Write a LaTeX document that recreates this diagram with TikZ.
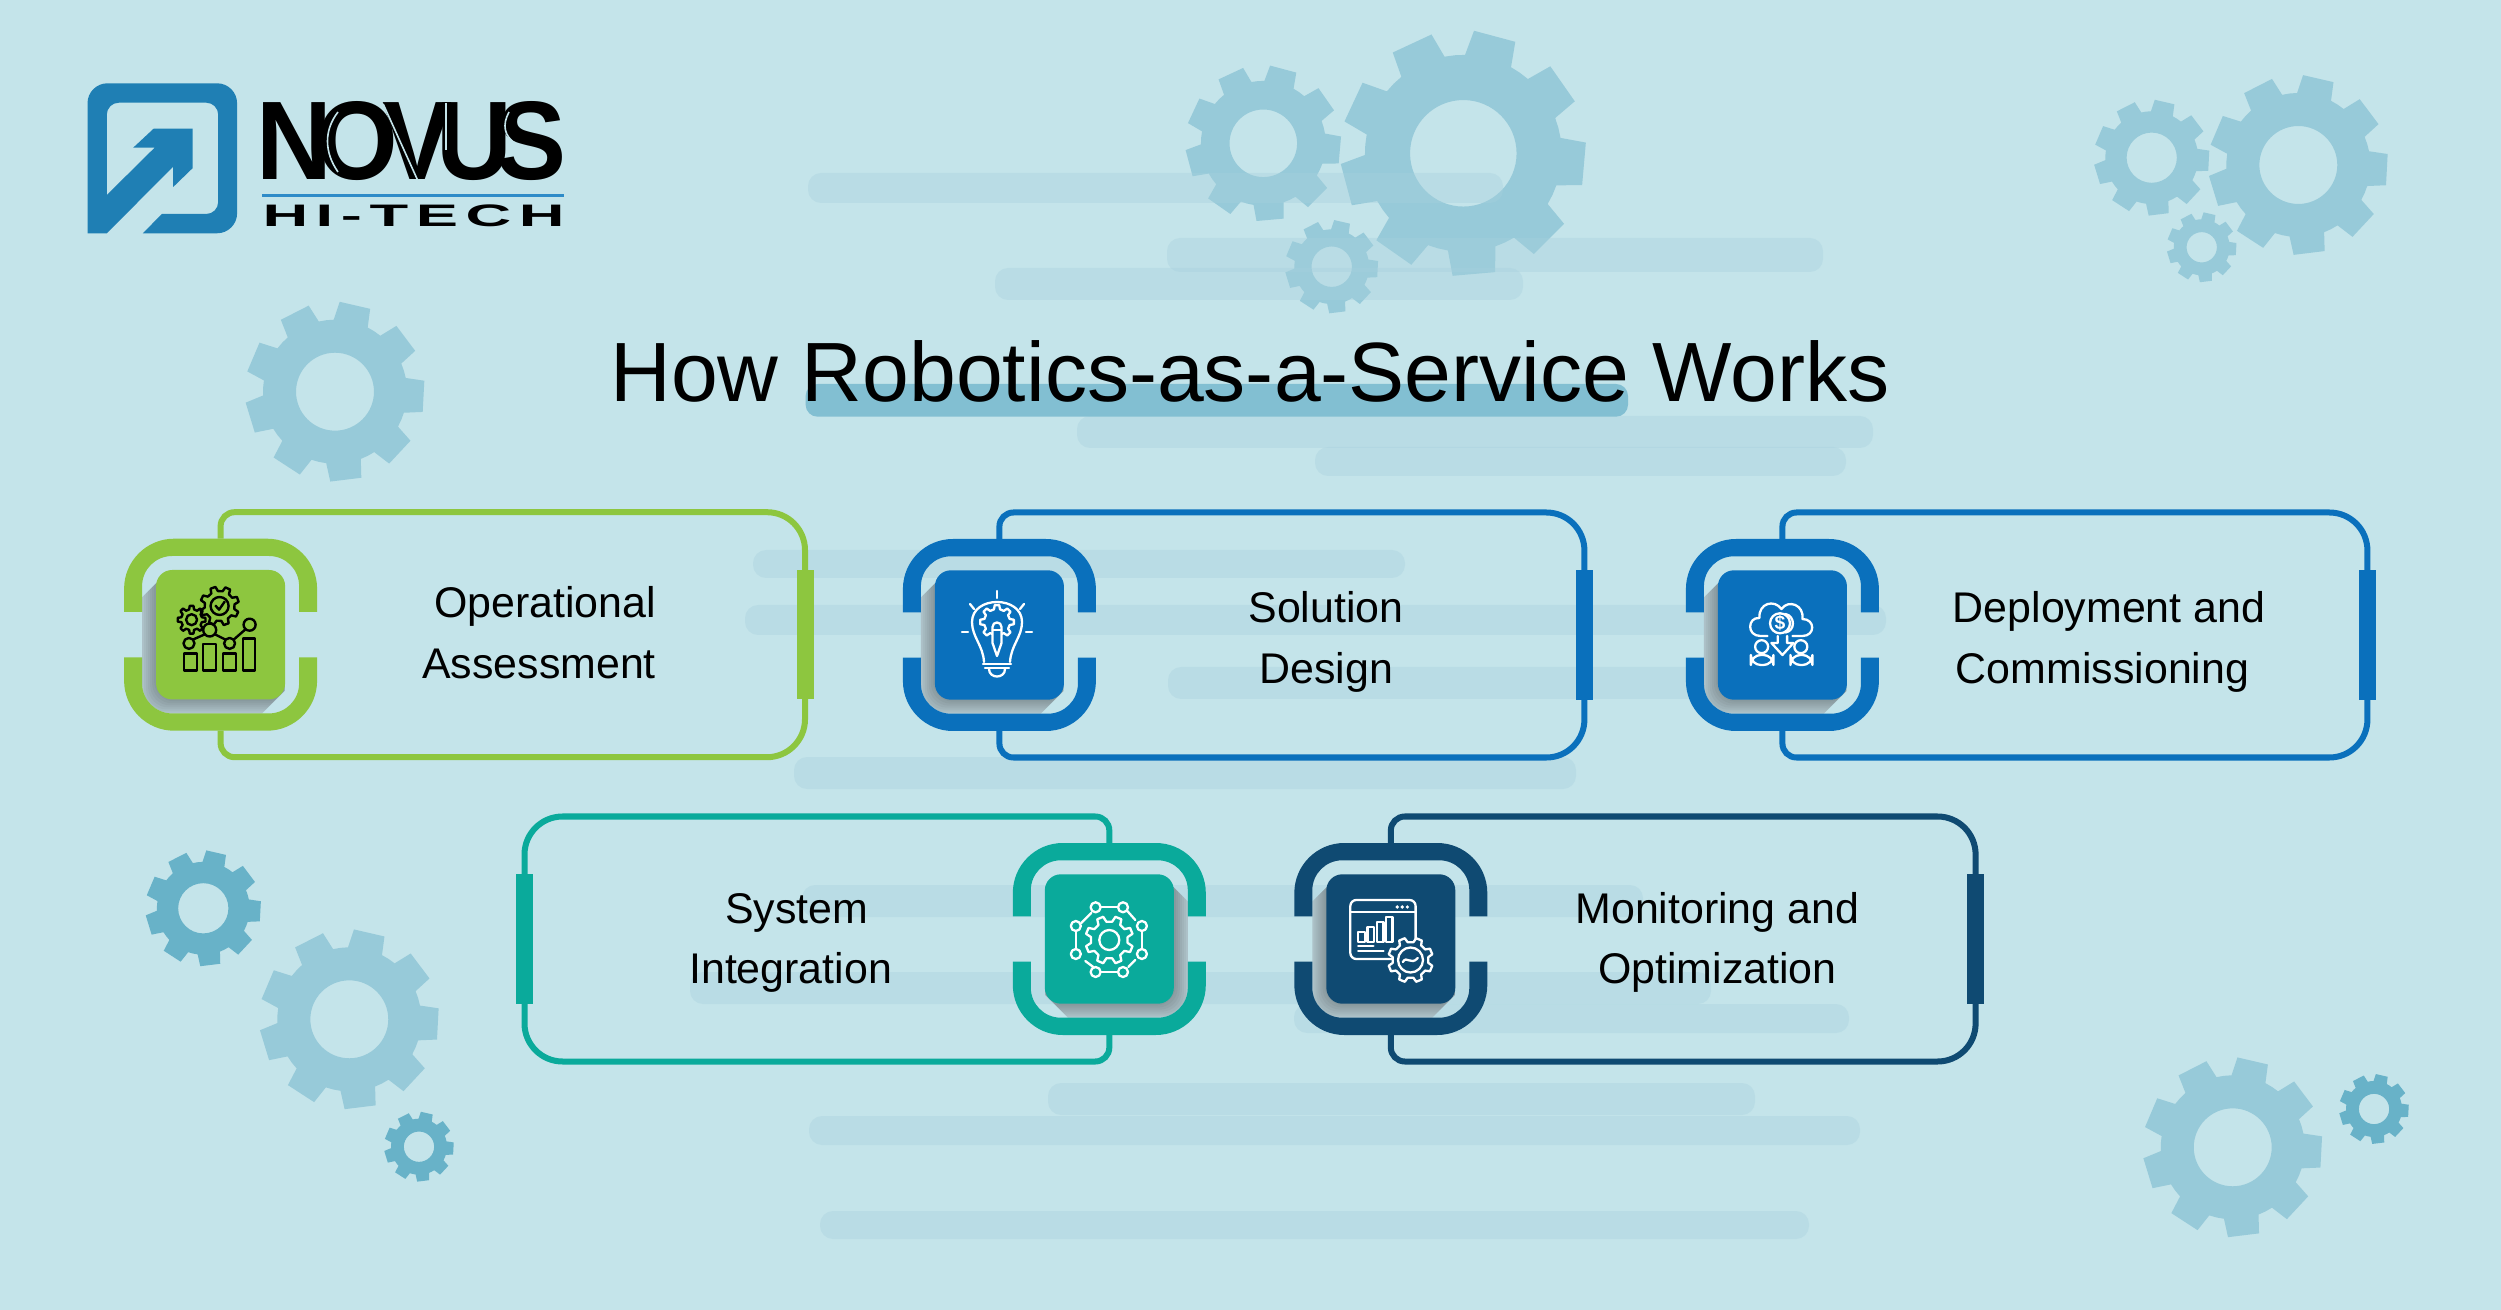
\documentclass[tikz,border=0pt]{standalone}
\usepackage{fontspec}
\usepackage{graphicx}
\setmainfont{Liberation Sans}
\newfontfamily\novusfont[LetterSpace=-15]{Liberation Sans}
\newfontfamily\hitechfont[LetterSpace=12]{Liberation Sans}
\definecolor{bgc}{HTML}{C4E4EA}
\definecolor{stripc}{HTML}{A6D0DD}
\definecolor{underc}{HTML}{82BFD2}
\definecolor{gearl}{HTML}{97CAD9}
\definecolor{geard}{HTML}{68B2C8}
\definecolor{logoc}{HTML}{1F7FB4}
\definecolor{ruleb}{HTML}{2E8BC8}
\definecolor{cgreen}{HTML}{8DC63F}
\definecolor{cblue}{HTML}{0A70BC}
\definecolor{cteal}{HTML}{0AAA9B}
\definecolor{cnavy}{HTML}{0F4A72}
\definecolor{shbase}{HTML}{B4C9D0}
\tikzset{
  striprect/.style={fill=stripc,opacity=.36,rounded corners=1.3mm},
  cardtext/.style={anchor=base,inner sep=0pt,font=\fontsize{12.2}{14}\selectfont,text=black},
  wline/.style={draw=white,line width=2.3*0.01cm,line join=round,line cap=round},
  kline/.style={draw=black,line width=2.4*0.01cm,line join=round,line cap=round},
  logosep/.style={draw=bgc,line width=1.6*0.01cm}
}
% background gear
\newcommand{\bggear}[5]{%
  \fill[#5,even odd rule,shift={(#1,#2)}]
    ({0.8*#3*cos(#4-14)},{-0.8*#3*sin(#4-14)})
    \foreach \k [evaluate=\k as \a using #4+40*\k] in {0,...,8}{
      -- ({#3*cos(\a-10)},{-#3*sin(\a-10)})
      -- ({#3*cos(\a+10)},{-#3*sin(\a+10)})
      -- ({0.8*#3*cos(\a+14)},{-0.8*#3*sin(\a+14)})
      -- ({0.8*#3*cos(\a+20)},{-0.8*#3*sin(\a+20)})
      -- ({0.8*#3*cos(\a+26)},{-0.8*#3*sin(\a+26)})
    } -- cycle
    (0,0) circle[radius={0.433*#3}];
}
% outlined icon gear: style, x, y, R, root, N, rot
\newcommand{\icgear}[7]{%
  \draw[#1,shift={(#2,#3)}]
    ({#5*cos(#7-0.3*360/#6)},{-#5*sin(#7-0.3*360/#6)})
    \foreach \k [evaluate=\k as \a using #7+360/#6*\k] in {1,...,#6}{
      -- ({#4*cos(\a-360/#6-0.17*360/#6)},{-#4*sin(\a-360/#6-0.17*360/#6)})
      -- ({#4*cos(\a-360/#6+0.17*360/#6)},{-#4*sin(\a-360/#6+0.17*360/#6)})
      -- ({#5*cos(\a-360/#6+0.3*360/#6)},{-#5*sin(\a-360/#6+0.3*360/#6)})
      -- ({#5*cos(\a-0.3*360/#6)},{-#5*sin(\a-0.3*360/#6)})
    } -- cycle;
}
% card: cx, cy, far-x (relative), colour, direction (1: shadow at left, -1: shadow at right)
\newcommand{\cardbase}[5]{%
  \begin{scope}[shift={(#1,#2)}]
    \draw[#4,line width=0.06cm] (0,-96) [rounded corners=1.4mm] -- (0,-122.5) -- ({#3/2},-122.5)
       [rounded corners=3.8mm] -- (#3,-122.5) -- (#3,122.5) -- ({#3/2},122.5)
       [rounded corners=1.4mm] -- (0,122.5) -- (0,96);
    \fill[#4] ({#3-8.5},-64.7) rectangle ({#3+8.5},64.7);
    \begin{scope}
      \clip[rounded corners=3mm] (-78.5,-78.7) rectangle (78.5,78.7);
      \clip ({-64*#5},-52) -- ({-80*#5},-36) -- ({-80*#5},80) -- ({40*#5},80) -- ({64*#5},56) -- ({64*#5},0) -- (0,0) -- cycle;
      \fill[shbase] (-100,-100) rectangle (100,100);
      \foreach \s in {2,4,...,14} {
        \fill[black,opacity=.035,rounded corners=2mm] ({-64.5-\s},{-64.7-\s}) rectangle ({64.5+\s},{64.7+\s});
      }
    \end{scope}
    \begin{scope}
      \clip (-100,-100) rectangle (100,-22.7) (-100,22.7) rectangle (100,100);
      \fill[#4,even odd rule] [rounded corners=5mm] (-96.5,-96) rectangle (96.5,96)
         [rounded corners=3mm] (-78.5,-78.7) rectangle (78.5,78.7);
    \end{scope}
    \fill[#4,rounded corners=1.6mm] (-64.5,-64.7) rectangle (64.5,64.7);
  \end{scope}
}
\begin{document}
\begin{tikzpicture}[x=0.01cm,y=-0.01cm]
\useasboundingbox (0,0) rectangle (2501,1310);
\fill[bgc] (0,0) rectangle (2501,1310);
% background gears
\bggear{1463.3}{153.3}{123}{75}{gearl}
\bggear{1263.3}{143.3}{78}{75}{gearl}
\bggear{1331.7}{266.7}{46.7}{77}{gearl}
\bggear{335}{391.7}{90}{77}{gearl}
\bggear{2298.3}{165}{90}{77}{gearl}
\bggear{2151.7}{157.7}{58}{77}{gearl}
\bggear{2201.7}{247.3}{35}{77}{gearl}
\bggear{203.3}{908.3}{58}{77}{geard}
\bggear{349.3}{1019.3}{90}{77}{gearl}
\bggear{419}{1146.7}{35}{77}{geard}
\bggear{2232.7}{1147.3}{90}{77}{gearl}
\bggear{2374}{1109}{35}{77}{geard}
% background strips
\foreach \xa/\ya/\xb/\yb in {
  808/173/1503/203, 1167/238/1823/272, 995/268/1523/300,
  1077/416/1873/448, 1315/447/1846/476,
  753/550/1405/578, 745/605/1886/635, 1168/667/1720/699, 794/757/1576/789,
  802/885/1643/917, 690/972/1711/1004, 1294/1004/1849/1033,
  1048/1083/1755/1115, 809/1116/1860/1145, 820/1211/1809/1239}
  {\fill[striprect] (\xa,\ya) rectangle (\xb,\yb);}
\fill[underc,rounded corners=1.2mm] (805.6,384) rectangle (1628,416.7);
% logo
\fill[logoc] (106.8,233.3) -- (87.5,233.3) [rounded corners=2mm] -- (87.5,83.3) -- (237.1,83.3) -- (237.1,233.3)
  [sharp corners] -- (142.9,233.3) -- (161.8,214) [rounded corners=1.2mm] -- (218.2,214) -- (218.2,102.7) -- (106.8,102.7)
  [sharp corners] -- (106.8,195) -- (154.6,147.7) -- (133.2,147.7) -- (153.6,128.7) -- (192.5,128.7) -- (192.5,168.3)
  -- (173.2,187) -- (173.2,166.7) -- cycle;
\node[anchor=south west,inner sep=0pt] (novus) at (256,181) {\resizebox{3.10cm}{0.78cm}{\novusfont\bfseries NOVUS}};
\draw[logosep] (338,112) .. controls (324,130) and (324,152) .. (338,172);
\draw[logosep] (383.2,104) -- (418,181);
\draw[logosep] (446,103) -- (446,150);
\draw[logosep] (509,112) .. controls (502,125) and (504,136) .. (516,144);
\fill[ruleb] (261.8,194) rectangle (563.6,196.6);
\node[anchor=south west,inner sep=0pt] (hitech) at (261.8,227.7) {\resizebox{3.02cm}{0.217cm}{\hitechfont\bfseries HI-TECH}};
% title
\node[anchor=base,inner sep=0pt,font=\fontsize{23.92}{28}\selectfont,text=black] (title) at (1250,402) {How Robotics-as-a-Service Works};
% cards
\cardbase{220.6}{634.7}{584.4}{cgreen}{1}
\cardbase{999.4}{635}{585}{cblue}{1}
\cardbase{1782.4}{635}{585}{cblue}{1}
\cardbase{1109.3}{939}{-584.8}{cteal}{-1}
\cardbase{1390.8}{939}{584.8}{cnavy}{1}
% card texts
\node[cardtext] (t1a) at (545,618) {Operational};
\node[cardtext] (t1b) at (539,679) {Assessment};
\node[cardtext] (t2a) at (1326,623) {Solution};
\node[cardtext] (t2b) at (1326.4,683.5) {Design};
\node[cardtext] (t3a) at (2109,623) {Deployment and};
\node[cardtext] (t3b) at (2102.5,683.5) {Commissioning};
\node[cardtext] (t4a) at (796.8,923) {System};
\node[cardtext] (t4b) at (790.6,983.5) {Integration};
\node[cardtext] (t5a) at (1717.3,923) {Monitoring and};
\node[cardtext] (t5b) at (1717.3,983.5) {Optimization};
% icon 1: assessment
\begin{scope}[shift={(220.6,634.7)}]
  \icgear{kline}{-1}{-28.7}{19.5}{15}{8}{20}
  \draw[kline] (-1,-28.7) circle[radius=9];
  \draw[kline] (-5,-29) -- (-1.5,-25) -- (4,-33);
  \icgear{kline}{-29}{-15}{14}{10.5}{8}{0}
  \draw[kline] (-29,-15) circle[radius=5.5];
  \draw[kline] (-36.8,18.7) rectangle (-23.6,36);
  \draw[kline] (-17.5,9.3) rectangle (-4.7,36);
  \draw[kline] (2.4,18.7) rectangle (15.6,36);
  \draw[kline] (22.2,3.7) rectangle (34.4,36);
  \draw[kline] (-31.6,8.7) circle[radius=5.5];
  \draw[kline] (-10.9,-4.7) circle[radius=6.5];
  \draw[kline] (9,8.7) circle[radius=5.5];
  \draw[kline] (29,-10) circle[radius=6];
  \draw[kline] (-27.5,4.8) -- (-15.5,-0.5);
  \draw[kline] (-6,-0.5) -- (5,5);
  \draw[kline] (13,5) -- (25,-5.5);
\end{scope}
% icon 2: bulb
\begin{scope}[shift={(997,635)}]
  \draw[wline] (-13,27) .. controls (-14,10) and (-25,2) .. (-25,-13) .. controls (-25,-26) and (-13,-33) .. (0,-33)
     .. controls (13,-33) and (25,-26) .. (25,-13) .. controls (25,2) and (14,10) .. (13,27);
  \draw[wline] (-14,29) -- (14,29);
  \draw[wline] (-12,33) -- (12,33);
  \draw[wline] (-8,34) .. controls (-8,44) and (8,44) .. (8,34);
  \draw[wline] (0,-44) -- (0,-37);
  \draw[wline] (-27,-31) -- (-23,-26);
  \draw[wline] (27,-31) -- (23,-26);
  \draw[wline] (-35,-2.7) -- (-29,-2.7);
  \draw[wline] (35,-2.7) -- (29,-2.7);
  \icgear{wline}{0}{-13}{17}{13}{8}{0}
  \fill[cblue] (-5,-12) rectangle (5,20);
  \draw[wline] (-4.5,8) -- (-4.5,-8) .. controls (-4.5,-14) and (4.5,-14) .. (4.5,-8) -- (4.5,8) -- (0,21) -- cycle;
  \draw[wline] (-4.5,-5) -- (4.5,-5);
\end{scope}
% icon 3: cloud
\begin{scope}[shift={(1782.4,635)}]
  \draw[wline] (-15,1) -- (-22,1) .. controls (-36,1) and (-35,-18) .. (-23,-17) .. controls (-24,-32) and (-8,-36) .. (-1,-26)
     .. controls (6,-36) and (22,-30) .. (20,-16) .. controls (33,-16) and (33,1) .. (20,1) -- (10,1);
  \fill[cblue] (-2.4,-11.7) circle[radius=10];
  \draw[wline] (-2.4,-11.7) circle[radius=10];
  \draw[wline] (3,-21) .. controls (13,-19) and (13,-4) .. (3,-2.5);
  \node[text=white,inner sep=0pt,font=\fontsize{5.5}{6}\selectfont\bfseries] (dollar) at (-2.4,-11.7) {\$};
  \draw[wline] (-4.7,1) -- (-4.7,8) -- (-11,8) -- (0,20) -- (11,8) -- (4.7,8) -- (4.7,1);
  \draw[wline] (-20.8,11.7) circle[radius=6.5];
  \draw[wline] (18.4,11.7) circle[radius=6.5];
  \draw[wline] [rounded corners=1mm] (-31.6,30) -- (-31.6,20) -- (-9,20) -- (-9,30) -- cycle;
  \draw[wline] [rounded corners=1mm] (8,30) -- (8,20) -- (30,20) -- (30,30) -- cycle;
\end{scope}
% icon 4: integration
\begin{scope}[shift={(1109.3,939)}]
  \icgear{wline}{0}{1}{24}{18.5}{8}{22.5}
  \draw[wline] (0,1) circle[radius=10];
  \foreach \px/\py in {-13.7/-31.7,13.7/-31.7,32.6/-13,32.6/15,13.7/33,-13.7/33,-33.5/15,-33.5/-13}
    {\draw[wline] (\px,\py) circle[radius=5];}
  \draw[wline] (-8.5,-31.7) -- (8.5,-31.7);
  \draw[wline] (-8.5,33) -- (8.5,33);
  \draw[wline] (18,-28) -- (26,-19);
  \draw[wline] (-18,-26) -- (-28,-16);
  \draw[wline] (-33.5,-8) -- (-33.5,10);
  \draw[wline] (32.6,-8) -- (32.6,10);
  \draw[wline] (-24,22) -- (-16,28);
  \draw[wline] (26,21) -- (19,28);
\end{scope}
% icon 5: monitoring
\begin{scope}[shift={(1390.8,939)}]
  \draw[wline,rounded corners=.6mm] (-40.5,-39) rectangle (24.8,20);
  \draw[wline] (-40.5,-26.7) -- (24.8,-26.7);
  \fill[white] (6.4,-32) circle[radius=1.8] (11.4,-32) circle[radius=1.8] (16.5,-32) circle[radius=1.8];
  \draw[wline] (-32.6,-7) rectangle (-25.7,2.7);
  \draw[wline] (-23.4,-12) rectangle (-16.5,2.7);
  \draw[wline] (-14,-17) rectangle (-7.3,2.7);
  \draw[wline] (-5,-21.7) rectangle (1.8,2.7);
  \draw[wline] (-32.6,6.7) -- (-17.4,6.7);
  \draw[wline] (-32.6,12) -- (-7.3,12);
  \icgear{wline,fill=cnavy}{19.7}{21}{22.5}{18}{8}{22.5}
  \draw[wline] (19.7,21) circle[radius=12.5];
  \draw[wline] (12,23) .. controls (16,16) and (20,27) .. (27,19);
\end{scope}
\end{tikzpicture}
\end{document}
